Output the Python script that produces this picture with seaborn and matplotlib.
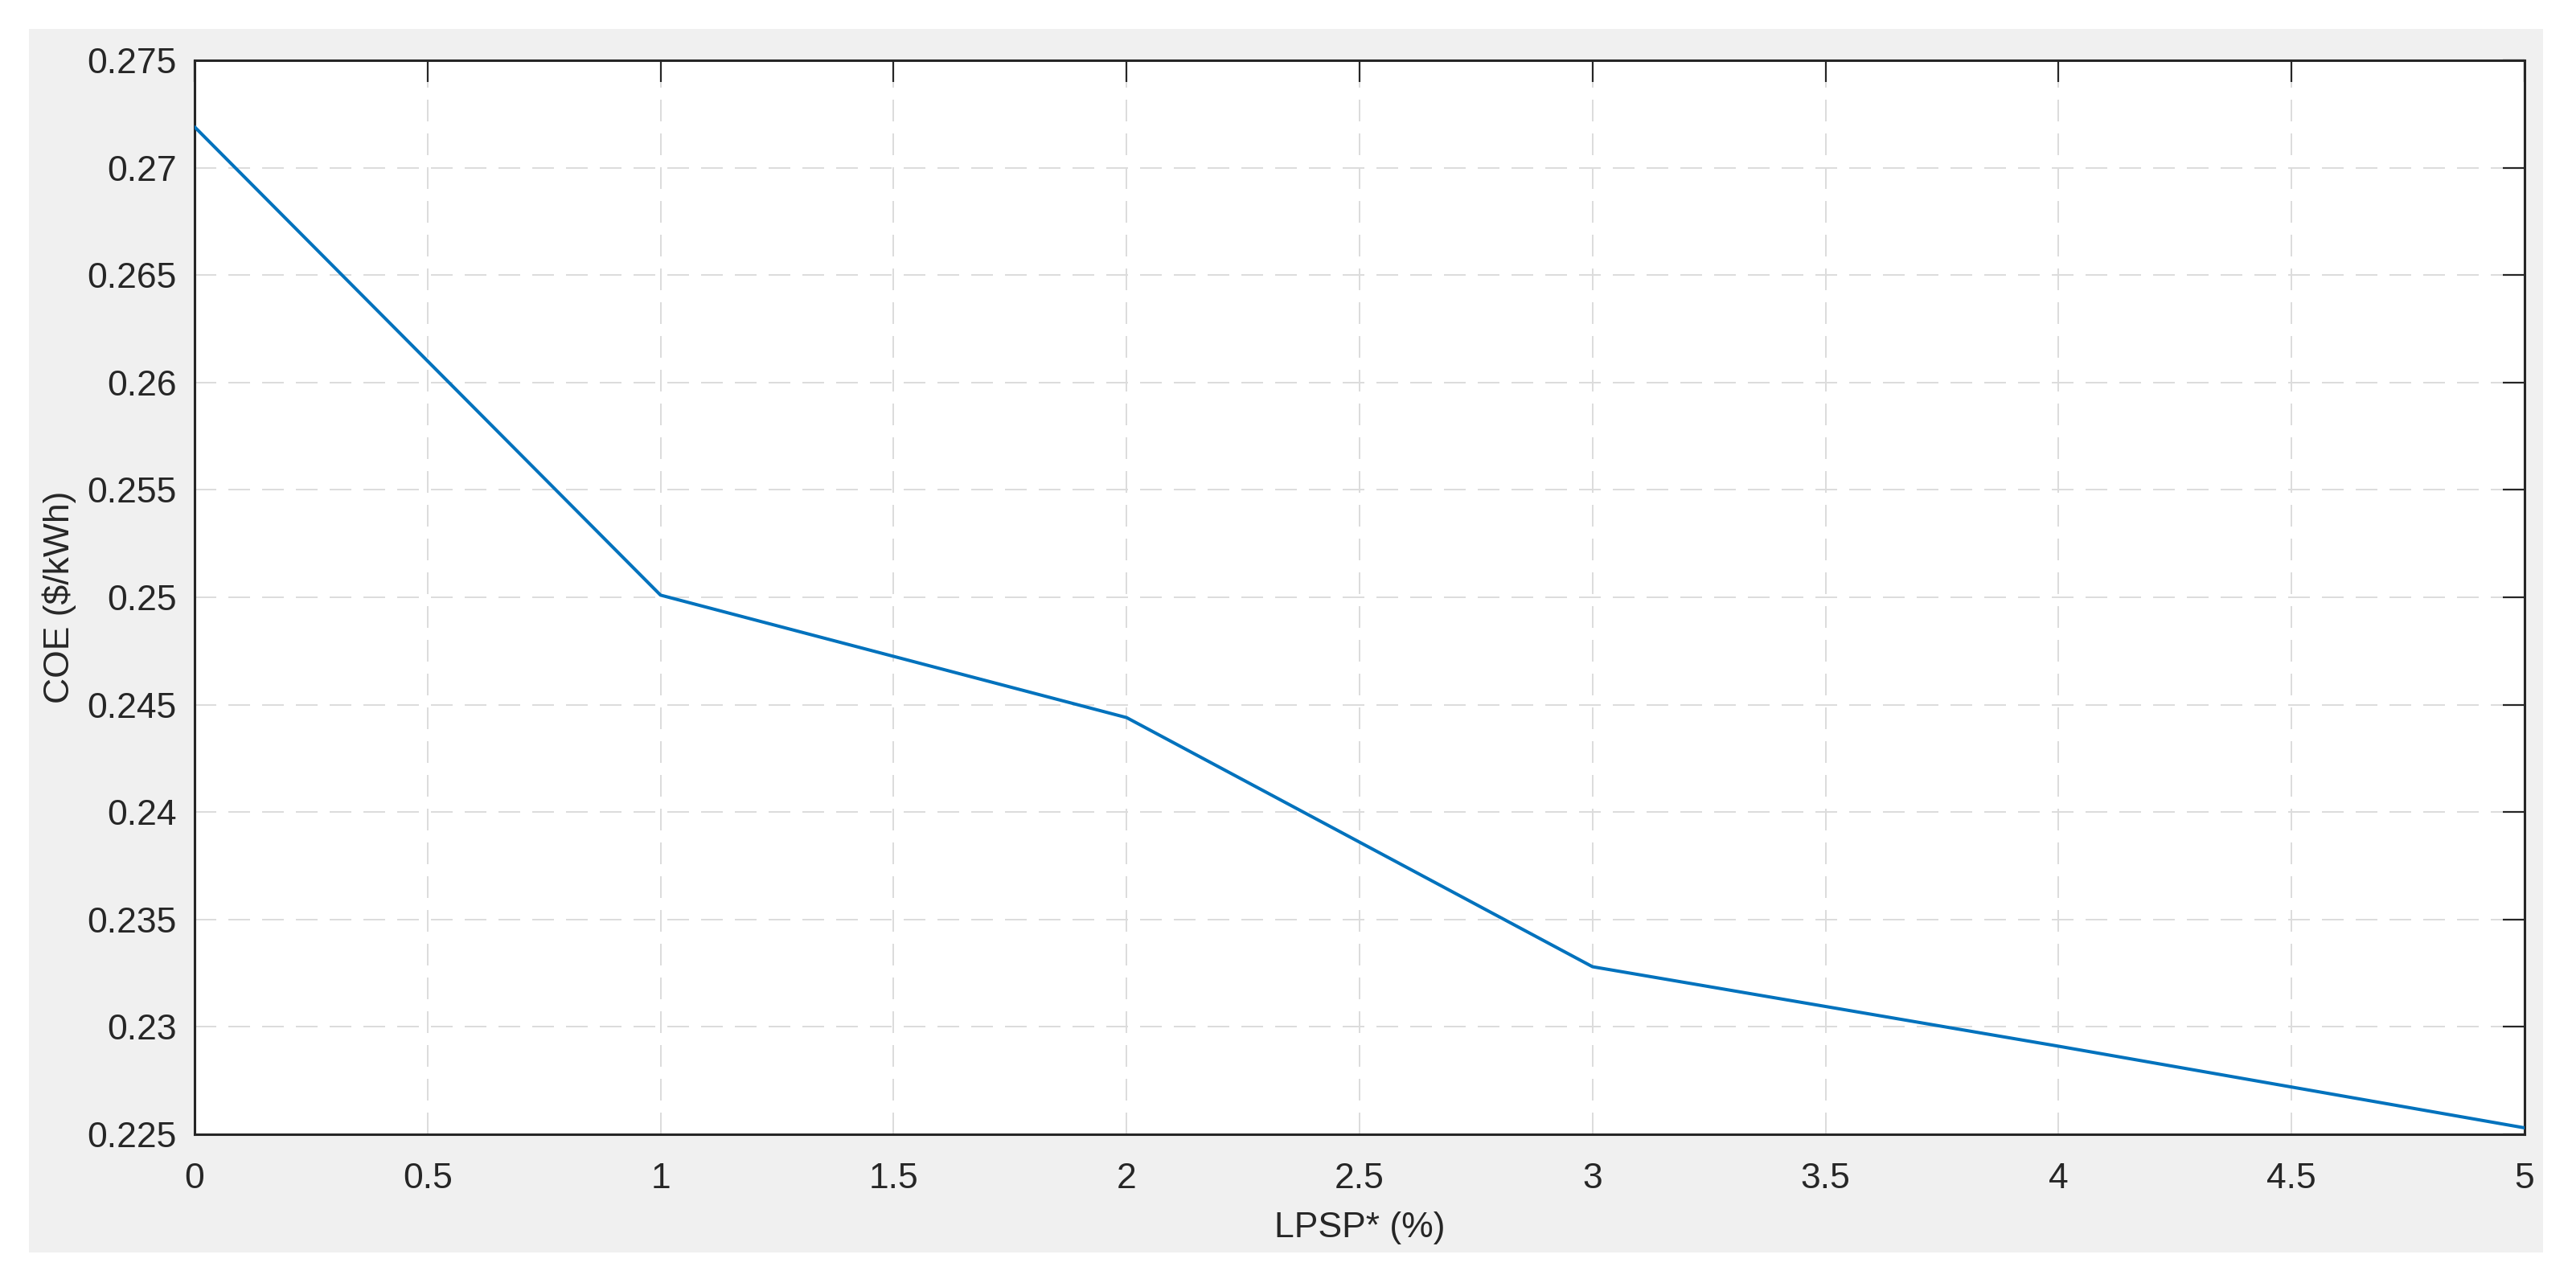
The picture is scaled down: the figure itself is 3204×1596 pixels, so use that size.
import pandas as pd
import seaborn as sns
import matplotlib.pyplot as plt
from matplotlib.patches import Rectangle

# data
lpsp = [0, 1, 2, 3, 4, 5]
coe = [0.2719, 0.2501, 0.2444, 0.2328, 0.2291, 0.2253]

x_ticks = [0, 0.5, 1, 1.5, 2, 2.5, 3, 3.5, 4, 4.5, 5]
x_labels = ["0", "0.5", "1", "1.5", "2", "2.5", "3", "3.5", "4", "4.5", "5"]
y_ticks = [0.225, 0.23, 0.235, 0.24, 0.245, 0.25, 0.255, 0.26, 0.265, 0.27, 0.275]
y_labels = ["0.225", "0.23", "0.235", "0.24", "0.245", "0.25", "0.255",
            "0.26", "0.265", "0.27", "0.275"]

sns.set_style("white")
plt.rcParams["font.family"] = ["Liberation Sans", "DejaVu Sans"]

W, H = 3204, 1596
fig = plt.figure(figsize=(W / 100, H / 100), dpi=100, facecolor="white")

# matlab-style grey figure panel (drawn behind the axes)
fig.patches.append(Rectangle((36 / W, (H - 1558) / H), (3163 - 36) / W, (1558 - 36) / H,
                             transform=fig.transFigure, facecolor="#f0f0f0",
                             edgecolor="none", zorder=-10))

ax = fig.add_axes([242 / W, (H - 1411) / H, (3140 - 242) / W, (1411 - 75) / H])
ax.set_facecolor("white")

df = pd.DataFrame({"LPSP": lpsp, "COE": coe})
sns.lineplot(data=df, x="LPSP", y="COE", ax=ax, color="#0072BD", linewidth=2.9,
             zorder=3)

ax.set_xlim(0, 5)
ax.set_ylim(0.225, 0.275)
ax.set_xticks(x_ticks)
ax.set_xticklabels(x_labels)
ax.set_yticks(y_ticks)
ax.set_yticklabels(y_labels)

ax.grid(True, color="#dcdcdc", linewidth=1.44, linestyle=(0, (13.5, 7.5)), zorder=1)
ax.set_axisbelow(True)

for s in ax.spines.values():
    s.set_visible(True)
    s.set_color("#262626")
    s.set_linewidth(2.2)

ax.tick_params(axis="both", which="major", direction="in", length=19.5, width=1.6,
               color="#262626", labelcolor="#262626", labelsize=32,
               top=True, right=True)
ax.tick_params(axis="x", pad=25)
ax.tick_params(axis="y", pad=16)

ax.set_xlabel("LPSP* (%)", fontsize=32, color="#262626")
ax.set_ylabel("COE ($/kWh)", fontsize=32, color="#262626")
ax.xaxis.set_label_coords(0.5, -0.072)
ax.yaxis.set_label_coords(-0.0507, 0.5)

fig.savefig("out.png", dpi=100, facecolor="white")
plt.close(fig)
